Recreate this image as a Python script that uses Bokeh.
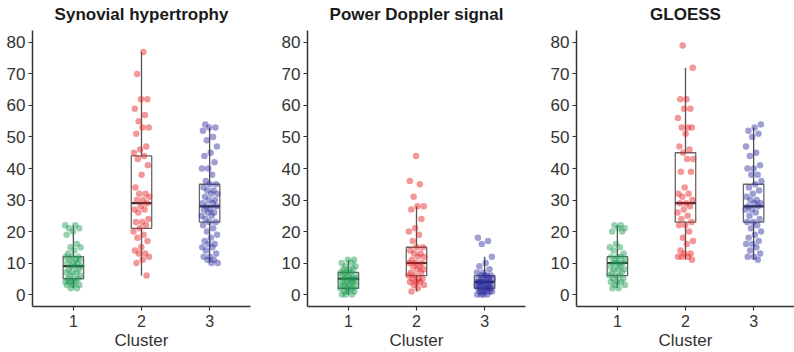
from bokeh.plotting import figure
from bokeh.layouts import row
from bokeh.models import Range1d, FixedTicker, ColumnDataSource
from bokeh.embed import file_html
from bokeh.resources import INLINE

titles = ["Synovial hypertrophy", "Power Doppler signal", "GLOESS"]
x_title = "Cluster"
clusters = [1, 2, 3]
colors = ["#1a9850", "#e41a1c", "#2b2b9e"]
y_ticks = [0, 10, 20, 30, 40, 50, 60, 70, 80]

# ---- Synovial hypertrophy ----
syn_c1 = [22, 22, 21, 21, 20, 19, 16, 15, 15, 14, 13, 12, 12, 12, 11, 11, 11, 10, 10, 10,
          9, 9, 9, 8, 8, 7, 7, 7, 6, 6, 5, 5, 5, 4, 4, 4, 4, 3, 3, 3, 2, 2]
syn_c2 = [77, 70, 62, 62, 59, 57, 55, 53, 53, 51, 47, 46, 45, 44, 43, 41, 38, 34, 32, 32,
          31, 30, 30, 29, 28, 27, 27, 26, 24, 23, 23, 22, 21, 20, 19, 18, 17, 15, 14, 13,
          13, 12, 11, 10, 6]
syn_c3 = [54, 53, 53, 52, 50, 49, 47, 45, 44, 42, 40, 40, 38, 36, 35, 35, 34, 33, 33, 32,
          32, 31, 30, 30, 29, 29, 28, 28, 27, 27, 26, 26, 25, 25, 24, 23, 23, 22, 21, 20,
          19, 18, 17, 16, 16, 15, 15, 14, 13, 12, 12, 11, 11, 10, 10]
syn_q1 = [5, 21, 23]
syn_med = [9, 29, 28]
syn_q3 = [12, 44, 35]
syn_lo = [2, 6, 10]
syn_hi = [22, 77, 53]

# ---- Power Doppler signal ----
pd_c1 = [11, 11, 10, 10, 9, 9, 8, 8, 8, 7, 7, 7, 7, 6, 6, 6, 5, 5, 5, 5, 5, 4, 4, 4, 4,
         3, 3, 3, 3, 2, 2, 2, 2, 1, 1, 1, 0, 0, 0]
pd_c2 = [44, 36, 35, 31, 28, 28, 27, 24, 21, 20, 19, 17, 15, 15, 14, 13, 13, 12, 12, 11,
         10, 10, 10, 9, 9, 8, 8, 7, 7, 6, 6, 5, 5, 5, 4, 4, 4, 3, 3, 2, 1]
pd_c3 = [18, 17, 16, 12, 10, 9, 8, 7, 7, 6, 6, 6, 6, 5, 5, 5, 5, 5, 4, 4, 4, 4, 4, 4,
         3, 3, 3, 3, 3, 3, 2, 2, 2, 2, 2, 2, 1, 1, 1, 1, 1, 0, 0, 0, 0]
pd_q1 = [2, 6, 2]
pd_med = [5, 10, 4]
pd_q3 = [7, 15, 6]
pd_lo = [0, 1, 0]
pd_hi = [11, 28, 12]

# ---- GLOESS ----
gl_c1 = [22, 22, 21, 21, 20, 20, 16, 15, 15, 14, 13, 12, 12, 12, 11, 11, 10, 10, 10, 10,
         9, 9, 8, 8, 8, 7, 7, 6, 6, 6, 5, 5, 4, 4, 4, 3, 3, 2, 2]
gl_c2 = [79, 72, 62, 62, 59, 59, 56, 53, 53, 53, 51, 47, 46, 45, 43, 43, 39, 39, 34, 32,
         32, 31, 30, 29, 29, 28, 27, 26, 25, 24, 23, 22, 22, 20, 18, 17, 16, 14, 13, 13,
         12, 12, 12, 11]
gl_c3 = [54, 53, 52, 51, 50, 47, 45, 44, 41, 40, 40, 38, 38, 36, 35, 34, 33, 32, 31, 30,
         30, 29, 29, 28, 28, 27, 27, 26, 25, 24, 23, 23, 22, 21, 20, 19, 18, 17, 16, 16,
         15, 14, 13, 12, 12, 11]
gl_q1 = [6, 23, 23]
gl_med = [10, 29, 28]
gl_q3 = [12, 45, 35]
gl_lo = [2, 11, 11]
gl_hi = [22, 72, 53]

panels = [
    (titles[0], [syn_c1, syn_c2, syn_c3], syn_q1, syn_med, syn_q3, syn_lo, syn_hi),
    (titles[1], [pd_c1, pd_c2, pd_c3], pd_q1, pd_med, pd_q3, pd_lo, pd_hi),
    (titles[2], [gl_c1, gl_c2, gl_c3], gl_q1, gl_med, gl_q3, gl_lo, gl_hi),
]

FONT = "Liberation Sans"
widths = [270, 266, 258]
lefts = [32, 37, 40]
BOX_HALF = 0.15
JIT = 0.24


def jitter_offsets(n, seed):
    # deterministic low-discrepancy spread for point placement
    return [(((i + seed) * 0.6180339887) % 1.0 - 0.5) * JIT for i in range(n)]


figs = []
for k, (title, groups, q1, med, q3, lo, hi) in enumerate(panels):
    p = figure(width=widths[k], height=352, output_backend="svg", toolbar_location=None,
               x_range=Range1d(0.4, 3.6), y_range=Range1d(-3.8, 83.8),
               min_border_left=lefts[k], min_border_right=widths[k] - lefts[k] - 218,
               min_border_top=29, min_border_bottom=46, title=title)
    p.title.text_font = FONT
    p.title.text_font_size = "17px"
    p.title.text_font_style = "bold"
    p.title.text_color = "#1a1a1a"
    p.title.align = "center"
    p.title.vertical_align = "top"
    p.title.standoff = 9
    p.outline_line_color = None
    p.xgrid.grid_line_color = None
    p.ygrid.grid_line_color = None
    p.background_fill_color = "white"
    p.border_fill_color = "white"

    for ax in (p.xaxis[0], p.yaxis[0]):
        ax.axis_line_color = "#333333"
        ax.axis_line_width = 1.5
        ax.major_tick_line_color = "#333333"
        ax.major_tick_line_width = 1.2
        ax.major_tick_out = 4
        ax.major_tick_in = 0
        ax.minor_tick_line_color = None
        ax.major_label_text_font = FONT
        ax.major_label_text_color = "#333333"
    p.yaxis.major_label_text_font_size = "17px"
    p.xaxis.major_label_text_font_size = "16px"
    p.xaxis.major_label_standoff = 4
    p.yaxis.major_label_standoff = 3
    p.yaxis.ticker = FixedTicker(ticks=y_ticks)
    p.xaxis.ticker = FixedTicker(ticks=clusters)
    p.xaxis.axis_label = x_title
    p.xaxis.axis_label_text_font = FONT
    p.xaxis.axis_label_text_font_size = "17px"
    p.xaxis.axis_label_text_font_style = "normal"
    p.xaxis.axis_label_text_color = "#333333"
    p.xaxis.axis_label_standoff = 1

    box = ColumnDataSource(dict(
        x=clusters,
        left=[c - BOX_HALF for c in clusters],
        right=[c + BOX_HALF for c in clusters],
        q1=q1, med=med, q3=q3, lo=lo, hi=hi,
    ))
    p.segment(x0="x", y0="lo", x1="x", y1="q1", source=box, line_color="#555555", line_width=1.3)
    p.segment(x0="x", y0="q3", x1="x", y1="hi", source=box, line_color="#555555", line_width=1.3)
    p.quad(left="left", right="right", bottom="q1", top="q3", source=box,
           fill_alpha=0, line_color="#666666", line_width=1.3)
    p.segment(x0="left", y0="med", x1="right", y1="med", source=box,
              line_color="#333333", line_width=2.2)

    for j, vals in enumerate(groups):
        offs = jitter_offsets(len(vals), seed=3 * k + j)
        src = ColumnDataSource(dict(x=[clusters[j] + o for o in offs], y=vals))
        p.scatter("x", "y", source=src, size=6.5, fill_color=colors[j], fill_alpha=0.45,
                  line_color=None)
    figs.append(p)

layout = row(*figs, spacing=0)
open("out.html", "w").write(file_html(layout, INLINE))
